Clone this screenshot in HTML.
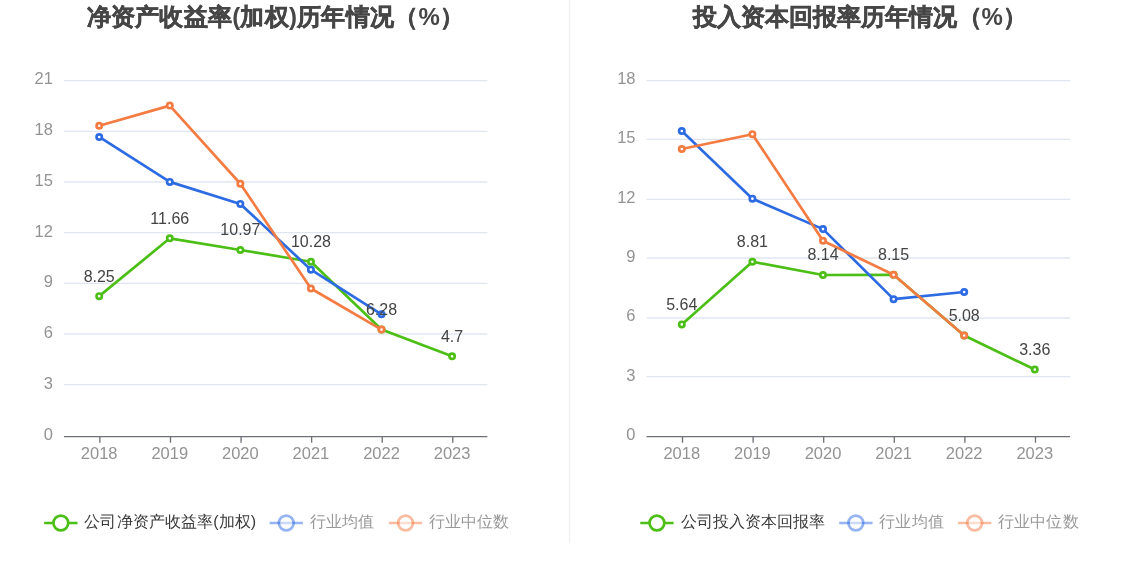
<!DOCTYPE html>
<html><head><meta charset="utf-8"><title>chart</title>
<style>
html,body{margin:0;padding:0;background:#fff;width:1134px;height:582px;overflow:hidden}
svg{display:block;filter:blur(0.35px)}
text{font-family:"Liberation Sans", sans-serif}
</style></head><body>
<svg width="1134" height="582" viewBox="0 0 1134 582">
<line x1="569.5" y1="0" x2="569.5" y2="542.5" stroke="#F0F0F0" stroke-width="1.33"/>
<text x="52.91" y="439.9" text-anchor="end" font-size="16.5" fill="#939393">0</text>
<line x1="63.91" y1="384.67" x2="487.39" y2="384.67" stroke="#E0E6F1" stroke-width="1.33"/>
<text x="52.91" y="389.0" text-anchor="end" font-size="16.5" fill="#939393">3</text>
<line x1="63.91" y1="334.00" x2="487.39" y2="334.00" stroke="#E0E6F1" stroke-width="1.33"/>
<text x="52.91" y="338.2" text-anchor="end" font-size="16.5" fill="#939393">6</text>
<line x1="63.91" y1="283.33" x2="487.39" y2="283.33" stroke="#E0E6F1" stroke-width="1.33"/>
<text x="52.91" y="287.3" text-anchor="end" font-size="16.5" fill="#939393">9</text>
<line x1="63.91" y1="232.67" x2="487.39" y2="232.67" stroke="#E0E6F1" stroke-width="1.33"/>
<text x="52.91" y="236.5" text-anchor="end" font-size="16.5" fill="#939393">12</text>
<line x1="63.91" y1="182.00" x2="487.39" y2="182.00" stroke="#E0E6F1" stroke-width="1.33"/>
<text x="52.91" y="185.6" text-anchor="end" font-size="16.5" fill="#939393">15</text>
<line x1="63.91" y1="131.33" x2="487.39" y2="131.33" stroke="#E0E6F1" stroke-width="1.33"/>
<text x="52.91" y="134.8" text-anchor="end" font-size="16.5" fill="#939393">18</text>
<line x1="63.91" y1="80.67" x2="487.39" y2="80.67" stroke="#E0E6F1" stroke-width="1.33"/>
<text x="52.91" y="83.9" text-anchor="end" font-size="16.5" fill="#939393">21</text>
<line x1="63.91" y1="436.67" x2="487.39" y2="436.67" stroke="#6E7079" stroke-width="1.33"/>
<line x1="99.90" y1="436.67" x2="99.90" y2="442.67" stroke="#6E7079" stroke-width="1.33"/>
<text x="99.20" y="459" text-anchor="middle" font-size="16.5" fill="#939393">2018</text>
<line x1="170.48" y1="436.67" x2="170.48" y2="442.67" stroke="#6E7079" stroke-width="1.33"/>
<text x="169.78" y="459" text-anchor="middle" font-size="16.5" fill="#939393">2019</text>
<line x1="241.06" y1="436.67" x2="241.06" y2="442.67" stroke="#6E7079" stroke-width="1.33"/>
<text x="240.36" y="459" text-anchor="middle" font-size="16.5" fill="#939393">2020</text>
<line x1="311.64" y1="436.67" x2="311.64" y2="442.67" stroke="#6E7079" stroke-width="1.33"/>
<text x="310.94" y="459" text-anchor="middle" font-size="16.5" fill="#939393">2021</text>
<line x1="382.22" y1="436.67" x2="382.22" y2="442.67" stroke="#6E7079" stroke-width="1.33"/>
<text x="381.52" y="459" text-anchor="middle" font-size="16.5" fill="#939393">2022</text>
<line x1="452.80" y1="436.67" x2="452.80" y2="442.67" stroke="#6E7079" stroke-width="1.33"/>
<text x="452.10" y="459" text-anchor="middle" font-size="16.5" fill="#939393">2023</text>
<polyline points="99.20,296.14 169.78,238.34 240.36,250.03 310.94,261.73 381.52,329.54 452.10,356.32" fill="none" stroke="#4CBF16" stroke-width="2.67" stroke-linejoin="bevel"/>
<circle cx="99.20" cy="296.14" r="2.67" fill="#fff" stroke="#4CBF16" stroke-width="2.67"/>
<circle cx="169.78" cy="238.34" r="2.67" fill="#fff" stroke="#4CBF16" stroke-width="2.67"/>
<circle cx="240.36" cy="250.03" r="2.67" fill="#fff" stroke="#4CBF16" stroke-width="2.67"/>
<circle cx="310.94" cy="261.73" r="2.67" fill="#fff" stroke="#4CBF16" stroke-width="2.67"/>
<circle cx="381.52" cy="329.54" r="2.67" fill="#fff" stroke="#4CBF16" stroke-width="2.67"/>
<circle cx="452.10" cy="356.32" r="2.67" fill="#fff" stroke="#4CBF16" stroke-width="2.67"/>
<polyline points="99.20,136.96 169.78,181.88 240.36,203.92 310.94,269.70 381.52,314.28" fill="none" stroke="#2D6BE3" stroke-width="2.67" stroke-linejoin="bevel"/>
<circle cx="99.20" cy="136.96" r="2.67" fill="#fff" stroke="#2D6BE3" stroke-width="2.67"/>
<circle cx="169.78" cy="181.88" r="2.67" fill="#fff" stroke="#2D6BE3" stroke-width="2.67"/>
<circle cx="240.36" cy="203.92" r="2.67" fill="#fff" stroke="#2D6BE3" stroke-width="2.67"/>
<circle cx="310.94" cy="269.70" r="2.67" fill="#fff" stroke="#2D6BE3" stroke-width="2.67"/>
<circle cx="381.52" cy="314.28" r="2.67" fill="#fff" stroke="#2D6BE3" stroke-width="2.67"/>
<polyline points="99.20,125.77 169.78,105.60 240.36,183.75 310.94,288.51 381.52,329.54" fill="none" stroke="#F47B42" stroke-width="2.67" stroke-linejoin="bevel"/>
<circle cx="99.20" cy="125.77" r="2.67" fill="#fff" stroke="#F47B42" stroke-width="2.67"/>
<circle cx="169.78" cy="105.60" r="2.67" fill="#fff" stroke="#F47B42" stroke-width="2.67"/>
<circle cx="240.36" cy="183.75" r="2.67" fill="#fff" stroke="#F47B42" stroke-width="2.67"/>
<circle cx="310.94" cy="288.51" r="2.67" fill="#fff" stroke="#F47B42" stroke-width="2.67"/>
<circle cx="381.52" cy="329.54" r="2.67" fill="#fff" stroke="#F47B42" stroke-width="2.67"/>
<text x="99.20" y="281.5" text-anchor="middle" font-size="16" fill="#444444">8.25</text>
<text x="169.78" y="223.7" text-anchor="middle" font-size="16" fill="#444444">11.66</text>
<text x="240.36" y="235.4" text-anchor="middle" font-size="16" fill="#444444">10.97</text>
<text x="310.94" y="247.1" text-anchor="middle" font-size="16" fill="#444444">10.28</text>
<text x="381.52" y="314.9" text-anchor="middle" font-size="16" fill="#444444">6.28</text>
<text x="452.10" y="341.7" text-anchor="middle" font-size="16" fill="#444444">4.7</text>
<text x="275.5" y="24.9" text-anchor="middle" font-size="24" font-weight="bold" fill="#464646" stroke="#464646" stroke-width="0.5" letter-spacing="0.25"><tspan>净资产收益率</tspan><tspan stroke="none">(</tspan><tspan>加权</tspan><tspan stroke="none">)</tspan><tspan>历年情况（</tspan><tspan stroke="none">%</tspan><tspan>）</tspan></text>
<line x1="44.20" y1="523" x2="77.50" y2="523" stroke="#4CBF16" stroke-width="2.67" opacity="1"/><circle cx="60.85" cy="523" r="7.4" fill="#fff" stroke="#4CBF16" stroke-width="2.67" opacity="1"/>
<text x="84.40" y="526.8" font-size="16" fill="#3a3a3a" letter-spacing="0.1">公司净资产收益率(加权)</text>
<line x1="269.60" y1="523" x2="302.90" y2="523" stroke="#2D6BE3" stroke-width="2.67" opacity="0.5"/><circle cx="286.25" cy="523" r="7.4" fill="#fff" stroke="#2D6BE3" stroke-width="2.67" opacity="0.5"/>
<text x="309.80" y="526.8" font-size="16" fill="#999" letter-spacing="0.1">行业均值</text>
<line x1="388.90" y1="523" x2="422.20" y2="523" stroke="#F47B42" stroke-width="2.67" opacity="0.5"/><circle cx="405.55" cy="523" r="7.4" fill="#fff" stroke="#F47B42" stroke-width="2.67" opacity="0.5"/>
<text x="429.10" y="526.8" font-size="16" fill="#999" letter-spacing="0.1">行业中位数</text>
<text x="635.50" y="439.9" text-anchor="end" font-size="16.5" fill="#939393">0</text>
<line x1="646.50" y1="376.67" x2="1070.10" y2="376.67" stroke="#E0E6F1" stroke-width="1.33"/>
<text x="635.50" y="380.6" text-anchor="end" font-size="16.5" fill="#939393">3</text>
<line x1="646.50" y1="318.00" x2="1070.10" y2="318.00" stroke="#E0E6F1" stroke-width="1.33"/>
<text x="635.50" y="321.2" text-anchor="end" font-size="16.5" fill="#939393">6</text>
<line x1="646.50" y1="258.00" x2="1070.10" y2="258.00" stroke="#E0E6F1" stroke-width="1.33"/>
<text x="635.50" y="261.9" text-anchor="end" font-size="16.5" fill="#939393">9</text>
<line x1="646.50" y1="199.33" x2="1070.10" y2="199.33" stroke="#E0E6F1" stroke-width="1.33"/>
<text x="635.50" y="202.6" text-anchor="end" font-size="16.5" fill="#939393">12</text>
<line x1="646.50" y1="139.33" x2="1070.10" y2="139.33" stroke="#E0E6F1" stroke-width="1.33"/>
<text x="635.50" y="143.2" text-anchor="end" font-size="16.5" fill="#939393">15</text>
<line x1="646.50" y1="80.67" x2="1070.10" y2="80.67" stroke="#E0E6F1" stroke-width="1.33"/>
<text x="635.50" y="83.9" text-anchor="end" font-size="16.5" fill="#939393">18</text>
<line x1="646.50" y1="436.67" x2="1070.10" y2="436.67" stroke="#6E7079" stroke-width="1.33"/>
<line x1="682.50" y1="436.67" x2="682.50" y2="442.67" stroke="#6E7079" stroke-width="1.33"/>
<text x="681.80" y="459" text-anchor="middle" font-size="16.5" fill="#939393">2018</text>
<line x1="753.10" y1="436.67" x2="753.10" y2="442.67" stroke="#6E7079" stroke-width="1.33"/>
<text x="752.40" y="459" text-anchor="middle" font-size="16.5" fill="#939393">2019</text>
<line x1="823.70" y1="436.67" x2="823.70" y2="442.67" stroke="#6E7079" stroke-width="1.33"/>
<text x="823.00" y="459" text-anchor="middle" font-size="16.5" fill="#939393">2020</text>
<line x1="894.30" y1="436.67" x2="894.30" y2="442.67" stroke="#6E7079" stroke-width="1.33"/>
<text x="893.60" y="459" text-anchor="middle" font-size="16.5" fill="#939393">2021</text>
<line x1="964.90" y1="436.67" x2="964.90" y2="442.67" stroke="#6E7079" stroke-width="1.33"/>
<text x="964.20" y="459" text-anchor="middle" font-size="16.5" fill="#939393">2022</text>
<line x1="1035.50" y1="436.67" x2="1035.50" y2="442.67" stroke="#6E7079" stroke-width="1.33"/>
<text x="1034.80" y="459" text-anchor="middle" font-size="16.5" fill="#939393">2023</text>
<polyline points="681.80,324.45 752.40,261.76 823.00,275.01 893.60,274.81 964.20,335.53 1034.80,369.55" fill="none" stroke="#4CBF16" stroke-width="2.67" stroke-linejoin="bevel"/>
<circle cx="681.80" cy="324.45" r="2.67" fill="#fff" stroke="#4CBF16" stroke-width="2.67"/>
<circle cx="752.40" cy="261.76" r="2.67" fill="#fff" stroke="#4CBF16" stroke-width="2.67"/>
<circle cx="823.00" cy="275.01" r="2.67" fill="#fff" stroke="#4CBF16" stroke-width="2.67"/>
<circle cx="893.60" cy="274.81" r="2.67" fill="#fff" stroke="#4CBF16" stroke-width="2.67"/>
<circle cx="964.20" cy="335.53" r="2.67" fill="#fff" stroke="#4CBF16" stroke-width="2.67"/>
<circle cx="1034.80" cy="369.55" r="2.67" fill="#fff" stroke="#4CBF16" stroke-width="2.67"/>
<polyline points="681.80,131.03 752.40,198.67 823.00,229.12 893.60,299.14 964.20,292.02" fill="none" stroke="#2D6BE3" stroke-width="2.67" stroke-linejoin="bevel"/>
<circle cx="681.80" cy="131.03" r="2.67" fill="#fff" stroke="#2D6BE3" stroke-width="2.67"/>
<circle cx="752.40" cy="198.67" r="2.67" fill="#fff" stroke="#2D6BE3" stroke-width="2.67"/>
<circle cx="823.00" cy="229.12" r="2.67" fill="#fff" stroke="#2D6BE3" stroke-width="2.67"/>
<circle cx="893.60" cy="299.14" r="2.67" fill="#fff" stroke="#2D6BE3" stroke-width="2.67"/>
<circle cx="964.20" cy="292.02" r="2.67" fill="#fff" stroke="#2D6BE3" stroke-width="2.67"/>
<polyline points="681.80,149.02 752.40,134.19 823.00,240.79 893.60,274.81 964.20,335.53" fill="none" stroke="#F47B42" stroke-width="2.67" stroke-linejoin="bevel"/>
<circle cx="681.80" cy="149.02" r="2.67" fill="#fff" stroke="#F47B42" stroke-width="2.67"/>
<circle cx="752.40" cy="134.19" r="2.67" fill="#fff" stroke="#F47B42" stroke-width="2.67"/>
<circle cx="823.00" cy="240.79" r="2.67" fill="#fff" stroke="#F47B42" stroke-width="2.67"/>
<circle cx="893.60" cy="274.81" r="2.67" fill="#fff" stroke="#F47B42" stroke-width="2.67"/>
<circle cx="964.20" cy="335.53" r="2.67" fill="#fff" stroke="#F47B42" stroke-width="2.67"/>
<text x="681.80" y="309.9" text-anchor="middle" font-size="16" fill="#444444">5.64</text>
<text x="752.40" y="247.2" text-anchor="middle" font-size="16" fill="#444444">8.81</text>
<text x="823.00" y="260.4" text-anchor="middle" font-size="16" fill="#444444">8.14</text>
<text x="893.60" y="260.2" text-anchor="middle" font-size="16" fill="#444444">8.15</text>
<text x="964.20" y="320.9" text-anchor="middle" font-size="16" fill="#444444">5.08</text>
<text x="1034.80" y="354.9" text-anchor="middle" font-size="16" fill="#444444">3.36</text>
<text x="860" y="24.9" text-anchor="middle" font-size="24" font-weight="bold" fill="#464646" stroke="#464646" stroke-width="0.5" letter-spacing="0.05"><tspan>投入资本回报率历年情况（</tspan><tspan stroke="none">%</tspan><tspan>）</tspan></text>
<line x1="640.30" y1="523" x2="673.60" y2="523" stroke="#4CBF16" stroke-width="2.67" opacity="1"/><circle cx="656.95" cy="523" r="7.4" fill="#fff" stroke="#4CBF16" stroke-width="2.67" opacity="1"/>
<text x="680.50" y="526.8" font-size="16" fill="#3a3a3a" letter-spacing="0.1">公司投入资本回报率</text>
<line x1="839.20" y1="523" x2="872.50" y2="523" stroke="#2D6BE3" stroke-width="2.67" opacity="0.5"/><circle cx="855.85" cy="523" r="7.4" fill="#fff" stroke="#2D6BE3" stroke-width="2.67" opacity="0.5"/>
<text x="879.40" y="526.8" font-size="16" fill="#999" letter-spacing="0.1">行业均值</text>
<line x1="958.00" y1="523" x2="991.30" y2="523" stroke="#F47B42" stroke-width="2.67" opacity="0.5"/><circle cx="974.65" cy="523" r="7.4" fill="#fff" stroke="#F47B42" stroke-width="2.67" opacity="0.5"/>
<text x="998.20" y="526.8" font-size="16" fill="#999" letter-spacing="0.1">行业中位数</text>
</svg>
</body></html>
